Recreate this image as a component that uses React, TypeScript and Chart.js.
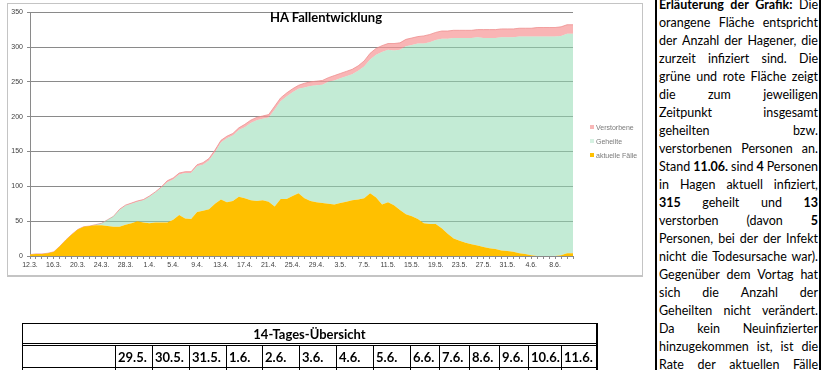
import React, { useEffect, useRef } from "react";
import { Chart, registerables } from "chart.js";

Chart.register(...registerables);

const chartTitle = "HA Fallentwicklung";

const dateLabels: string[] = [
  "12.3.", "13.3.", "14.3.", "15.3.", "16.3.", "17.3.", "18.3.", "19.3.", "20.3.", "21.3.",
  "22.3.", "23.3.", "24.3.", "25.3.", "26.3.", "27.3.", "28.3.", "29.3.", "30.3.", "31.3.",
  "1.4.", "2.4.", "3.4.", "4.4.", "5.4.", "6.4.", "7.4.", "8.4.", "9.4.", "10.4.",
  "11.4.", "12.4.", "13.4.", "14.4.", "15.4.", "16.4.", "17.4.", "18.4.", "19.4.", "20.4.",
  "21.4.", "22.4.", "23.4.", "24.4.", "25.4.", "26.4.", "27.4.", "28.4.", "29.4.", "30.4.",
  "1.5.", "2.5.", "3.5.", "4.5.", "5.5.", "6.5.", "7.5.", "8.5.", "9.5.", "10.5.",
  "11.5.", "12.5.", "13.5.", "14.5.", "15.5.", "16.5.", "17.5.", "18.5.", "19.5.", "20.5.",
  "21.5.", "22.5.", "23.5.", "24.5.", "25.5.", "26.5.", "27.5.", "28.5.", "29.5.", "30.5.",
  "31.5.", "1.6.", "2.6.", "3.6.", "4.6.", "5.6.", "6.6.", "7.6.", "8.6.", "9.6.",
  "10.6.", "11.6.",
];

const aktuelleFaelle: number[] = [
  2, 3, 3, 4, 6, 14, 23, 31, 38, 42,
  43, 44, 44, 43, 42, 42, 45, 47, 50, 48,
  47, 48, 48, 48, 52, 59, 54, 53, 63, 65,
  67, 75, 81, 77, 79, 85, 83, 80, 79, 80,
  78, 71, 82, 82, 86, 90, 83, 79, 77, 76,
  75, 74, 76, 78, 80, 81, 83, 90, 84, 74,
  77, 73, 66, 60, 57, 53, 47, 46, 46, 40,
  32, 25, 22, 19, 17, 15, 13, 11, 10, 8,
  7, 6, 4, 3, 1, 0, 0, 0, 0, 1,
  4, 4,
];

const geheilte: number[] = [
  0, 0, 0, 0, 0, 0, 0, 0, 0, 0,
  0, 1, 3, 9, 15, 24, 27, 28, 28, 32,
  38, 43, 50, 58, 58, 58, 65, 66, 66, 66,
  70, 74, 82, 92, 94, 96, 102, 111, 116, 117,
  121, 139, 140, 147, 149, 150, 159, 165, 168, 170,
  175, 178, 179, 180, 181, 185, 189, 192, 205, 219,
  219, 222, 230, 241, 246, 252, 258, 261, 264, 272,
  280, 288, 291, 294, 296, 299, 300, 302, 303, 306,
  307, 308, 311, 312, 314, 315, 315, 315, 315, 315,
  315, 315,
];

const verstorbene: number[] = [
  0, 0, 0, 0, 0, 0, 0, 0, 0, 0,
  0, 0, 0, 0, 0, 1, 1, 1, 1, 1,
  1, 1, 1, 2, 2, 2, 2, 2, 2, 3,
  3, 3, 3, 3, 3, 3, 4, 4, 4, 4,
  4, 5, 5, 5, 5, 5, 6, 6, 6, 6,
  6, 7, 7, 7, 7, 7, 8, 9, 9, 9,
  9, 10, 10, 10, 10, 10, 11, 11, 11, 11,
  11, 11, 11, 11, 11, 11, 12, 12, 12, 12,
  12, 12, 12, 12, 12, 13, 13, 13, 13, 13,
  13, 13,
];

const seriesNames = ["aktuelle Fälle", "Geheilte", "Verstorbene"];
const seriesColors = ["#FFC000", "rgba(146,218,178,0.55)", "rgba(247,150,150,0.7)"];
const legendSwatches = ["#FFC000", "#d6f1e2", "#f8b7b7"];

const tableTitle = "14-Tages-Übersicht";
const tableDates: string[] = [
  "29.5.", "30.5.", "31.5.", "1.6.", "2.6.", "3.6.", "4.6.",
  "5.6.", "6.6.", "7.6.", "8.6.", "9.6.", "10.6.", "11.6.",
];
const tableColX = [115, 152, 189, 226, 262, 299, 336, 373, 410, 439, 469, 499, 528, 561];

const textLines: string[] = [
  "**Erläuterung** **der** **Grafik:** Die",
  "orangene Fläche entspricht",
  "der Anzahl der Hagener, die",
  "zurzeit infiziert sind. Die",
  "grüne und rote Fläche zeigt",
  "die zum jeweiligen",
  "Zeitpunkt insgesamt",
  "geheilten bzw.",
  "verstorbenen Personen an.",
  "Stand **11.06.** sind **4** Personen",
  "in Hagen aktuell infiziert,",
  "**315** geheilt und **13**",
  "verstorben (davon **5**",
  "Personen, bei der der Infekt",
  "nicht die Todesursache war).",
  "Gegenüber dem Vortag hat",
  "sich die Anzahl der",
  "Geheilten nicht verändert.",
  "Da kein Neuinfizierter",
  "hinzugekommen ist, ist die",
  "Rate der aktuellen Fälle",
];

const FONT = "Lato, 'Liberation Sans', sans-serif";
const AXIS_FONT = "'Liberation Sans', Arial, sans-serif";

function FallChart() {
  const ref = useRef<HTMLCanvasElement>(null);
  useEffect(() => {
    const canvas = ref.current;
    if (!canvas) return;
    const chart = new Chart(canvas, {
      type: "line",
      data: {
        labels: dateLabels,
        datasets: [
          { label: seriesNames[0], data: aktuelleFaelle, backgroundColor: seriesColors[0], borderWidth: 0, fill: "origin", pointRadius: 0 },
          { label: seriesNames[1], data: geheilte, backgroundColor: seriesColors[1], borderWidth: 0, fill: "-1", pointRadius: 0 },
          { label: seriesNames[2], data: verstorbene, backgroundColor: seriesColors[2], borderColor: "rgba(238,140,140,0.75)", borderWidth: 1, fill: "-1", pointRadius: 0 },
        ],
      },
      options: {
        responsive: false,
        maintainAspectRatio: false,
        animation: false,
        layout: { padding: { left: 0, right: 69, top: 7, bottom: 0 } },
        plugins: {
          legend: { display: false },
          title: { display: false },
          tooltip: { enabled: false },
        },
        elements: { line: { tension: 0 }, point: { radius: 0 } },
        scales: {
          x: {
            type: "category",
            offset: false,
            grid: { drawOnChartArea: false, drawTicks: true, tickLength: 3, color: "#8a8a8a" },
            border: { color: "#8a8a8a" },
            ticks: {
              autoSkip: false,
              maxRotation: 0,
              minRotation: 0,
              padding: 2,
              color: "#404040",
              font: { size: 7, family: AXIS_FONT },
              callback: (_v: any, i: number) => (i % 4 === 0 ? dateLabels[i] : ""),
            },
            afterFit: (s: any) => { s.height = 19; },
          },
          y: {
            stacked: true,
            min: 0,
            max: 350,
            grid: { color: "#8a8a8a", tickLength: 3 },
            border: { color: "#8a8a8a" },
            ticks: { stepSize: 50, padding: 4, color: "#404040", font: { size: 7, family: AXIS_FONT } },
            afterFit: (s: any) => { s.width = 22; },
          },
        },
      } as any,
    });
    return () => chart.destroy();
  }, []);
  return (
    <canvas
      ref={ref}
      width={634}
      height={271}
      style={{ position: "absolute", left: 0, top: 0, width: 634, height: 271 }}
    />
  );
}

function JustLine({ text }: { text: string }) {
  const words = text.split(" ");
  return (
    <div style={{ display: "flex", justifyContent: "space-between", height: 18, lineHeight: "18px", whiteSpace: "nowrap" }}>
      {words.map((w, i) => {
        const bold = w.startsWith("**") && w.endsWith("**");
        return (
          <span key={i} style={{ fontWeight: bold ? 700 : 400 }}>
            {bold ? w.slice(2, -2) : w}
          </span>
        );
      })}
    </div>
  );
}

const hLine = (top: number, left: number, width: number, h = 1) => (
  <div style={{ position: "absolute", top, left, width, height: h, background: "#000" }} />
);
const vLine = (left: number, top: number, height: number, w = 1) => (
  <div style={{ position: "absolute", top, left, width: w, height, background: "#000" }} />
);

export default function App() {
  return (
    <div style={{ position: "absolute", left: 0, top: 0, width: 823, height: 370, overflow: "hidden", background: "#fff", fontFamily: FONT }}>
      {/* chart frame */}
      <div style={{ position: "absolute", left: 7, top: 3, width: 634, height: 271, border: "1px solid #c4c4c4", borderBottomWidth: 2 }}>
        <FallChart />
        <div style={{ position: "absolute", left: 218, top: 5, width: 200, textAlign: "center", fontWeight: 700, fontSize: 13, lineHeight: "16px", color: "#000" }}>
          {chartTitle}
        </div>
        {[2, 1, 0].map((si, k) => (
          <div key={si} style={{ position: "absolute", left: 582, top: 118 + k * 14, height: 10, display: "flex", alignItems: "center", fontFamily: AXIS_FONT, fontSize: 7, color: "#7a7a7a", whiteSpace: "nowrap" }}>
            <span style={{ display: "inline-block", width: 4, height: 4, background: legendSwatches[si], marginRight: 2 }} />
            {seriesNames[si]}
          </div>
        ))}
      </div>

      {/* explanation text box */}
      {vLine(655, 0, 370, 2)}
      {vLine(819, 0, 370, 2)}
      <div style={{ position: "absolute", left: 659, top: -4, width: 159, fontSize: 12.5, color: "#000" }}>
        {textLines.map((t, i) => (
          <JustLine key={i} text={t} />
        ))}
      </div>

      {/* table */}
      {hLine(323, 22, 576)}
      {vLine(22, 323, 47)}
      {vLine(596, 323, 47, 2)}
      {hLine(343, 22, 576)}
      {hLine(345, 22, 576)}
      {hLine(367, 22, 576)}
      {tableColX.map((x, i) => (
        <React.Fragment key={i}>{vLine(x, 345, 25)}</React.Fragment>
      ))}
      <div style={{ position: "absolute", left: 22, top: 325, width: 575, textAlign: "center", fontWeight: 700, fontSize: 13, lineHeight: "18px" }}>
        {tableTitle}
      </div>
      {tableDates.map((d, i) => (
        <div key={i} style={{ position: "absolute", left: tableColX[i] + 3, top: 347, fontWeight: 700, fontSize: 13, lineHeight: "20px", whiteSpace: "nowrap" }}>
          {d}
        </div>
      ))}
    </div>
  );
}
